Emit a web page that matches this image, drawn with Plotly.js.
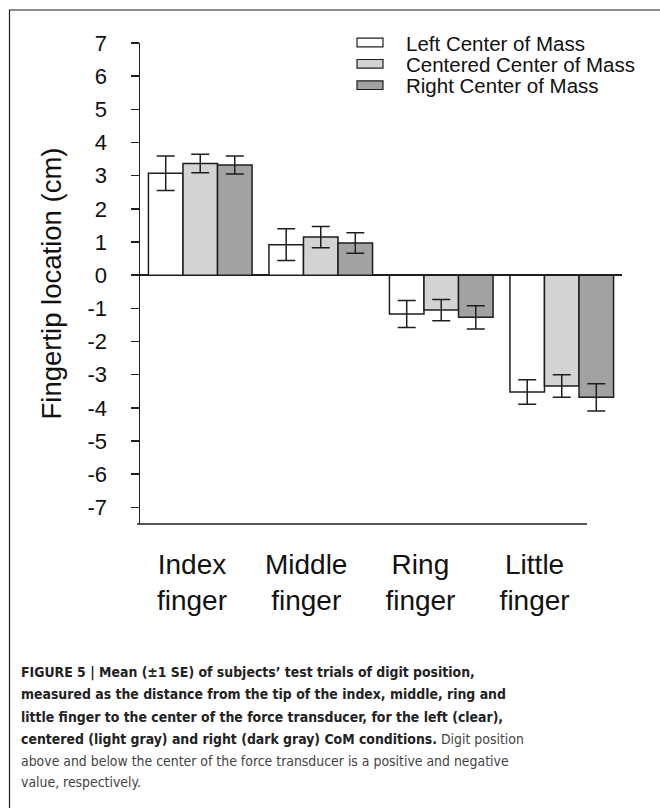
<!DOCTYPE html>
<html><head><meta charset="utf-8">
<script src="https://cdn.plot.ly/plotly-3.0.1.min.js"></script>
<style>html,body{margin:0;padding:0;background:#fff}</style>
</head><body><div id="chart" style="width:660px;height:808px"></div>
<script>
// ---- data ----
const fingers = ["Index finger", "Middle finger", "Ring finger", "Little finger"];
const fingerLabels = ["Index<br>finger", "Middle<br>finger", "Ring<br>finger", "Little<br>finger"];
const seriesNames = ["Left Center of Mass", "Centered Center of Mass", "Right Center of Mass"];
const leftMean = [3.07, 0.92, -1.17, -3.52];
const leftSE = [0.52, 0.48, 0.41, 0.37];
const centeredMean = [3.37, 1.15, -1.05, -3.34];
const centeredSE = [0.28, 0.32, 0.32, 0.34];
const rightMean = [3.32, 0.97, -1.27, -3.68];
const rightSE = [0.27, 0.31, 0.35, 0.41];
const yTickVals = [7, 6, 5, 4, 3, 2, 1, 0, -1, -2, -3, -4, -5, -6, -7];
const yTickText = ["7", "6", "5", "4", "3", "2", "1", "0", "-1", "-2", "-3", "-4", "-5", "-6", "-7"];
const yTitle = "Fingertip location (cm)";
const captionLines = [
  "<b>FIGURE 5 | Mean (±1 SE) of subjects’ test trials of digit position,</b>",
  "<b>measured as the distance from the tip of the index, middle, ring and</b>",
  "<b>little finger to the center of the force transducer, for the left (clear),</b>",
  "<b>centered (light gray) and right (dark gray) CoM conditions.</b><span style=\"color:#444\"> Digit position</span>",
  "<span style=\"color:#444\">above and below the center of the force transducer is a positive and negative</span>",
  "<span style=\"color:#444\">value, respectively.</span>"
];

// ---- styling ----
const colors = ["#ffffff", "#d3d3d3", "#a2a2a5"];
const means = [leftMean, centeredMean, rightMean];
const ses = [leftSE, centeredSE, rightSE];
const ink = "#1e1e1e";
const catIdx = fingers.map((f, i) => i);

const traces = means.map((m, k) => ({
  type: "bar",
  name: seriesNames[k],
  x: catIdx,
  y: m,
  marker: {color: colors[k], line: {color: ink, width: 1.5}},
  error_y: {type: "data", array: ses[k], visible: true, color: ink, thickness: 1.5, width: 9},
  showlegend: false,
  hoverinfo: "skip"
}));
// invisible carrier so the category label axis is drawn
traces.push({type: "scatter", mode: "markers", x: catIdx, y: catIdx.map(() => 0),
  xaxis: "x2", yaxis: "y", marker: {opacity: 0, size: 1}, showlegend: false, hoverinfo: "skip"});

// pixel -> paper helpers for decorations outside the plot area
const PL = 140, PR = 622, PT = 43, PB = 524;
const px = x => (x - PL) / (PR - PL);
const py = y => (PB - y) / (PB - PT);

const shapes = [
  {type: "rect", xref: "paper", yref: "paper", x0: px(9.5), x1: px(720), y0: py(900), y1: py(10),
   line: {color: ink, width: 1.2}, fillcolor: "rgba(0,0,0,0)"},
  {type: "line", xref: "paper", yref: "paper", x0: px(137), x1: px(587), y0: 0, y1: 0,
   line: {color: ink, width: 1.5}}
];
const annotations = [];
const legendRows = [42.5, 63.8, 85.2];
seriesNames.forEach((n, k) => {
  shapes.push({type: "rect", xref: "paper", yref: "paper",
    x0: px(357), x1: px(383), y0: py(legendRows[k] + 4.3), y1: py(legendRows[k] - 4.3),
    fillcolor: colors[k], line: {color: ink, width: 1.2}});
  annotations.push({xref: "paper", yref: "paper", x: px(404), y: py(legendRows[k] + 0.8),
    xanchor: "left", yanchor: "middle", showarrow: false, text: n,
    font: {family: "Liberation Sans, Arial, sans-serif", size: 20.5, color: "#111"}});
});
const capRows = [672, 694.5, 716.5, 738.5, 760.5, 782];
captionLines.forEach((t, i) => {
  annotations.push({xref: "paper", yref: "paper", x: px(19), y: py(capRows[i]),
    xanchor: "left", yanchor: "middle", align: "left", showarrow: false, text: t,
    font: {family: "DejaVu Sans Condensed, Liberation Sans Narrow, sans-serif", size: 13.9, color: "#222"}});
});

const layout = {
  width: 660, height: 808,
  margin: {l: PL, r: 660 - PR, t: PT, b: 808 - PB, pad: 0},
  paper_bgcolor: "#fff", plot_bgcolor: "#fff",
  barmode: "group", bargap: 0.14, bargroupgap: 0,
  font: {family: "Liberation Sans, Arial, sans-serif", color: "#111"},
  xaxis: {type: "linear", range: [-0.5, 3.5], showticklabels: false, showline: false,
    zeroline: false, showgrid: false, ticks: "", fixedrange: true},
  xaxis2: {type: "linear", overlaying: "x", anchor: "y", side: "bottom",
    range: [-0.455, 3.765], tickvals: catIdx, ticktext: fingerLabels,
    showline: false, showgrid: false, zeroline: false, ticks: "",
    ticklabelstandoff: 21, tickfont: {size: 28, color: "#111"}, fixedrange: true},
  yaxis: {range: [-7.5, 7], tickvals: yTickVals, ticktext: yTickText,
    showline: true, linecolor: ink, linewidth: 1.5,
    ticks: "outside", ticklen: 8, tickwidth: 1.5, tickcolor: ink,
    ticklabelstandoff: 19, tickfont: {size: 22, color: "#111"},
    showgrid: false, zeroline: true, zerolinecolor: ink, zerolinewidth: 1.5,
    title: {text: yTitle, font: {size: 27.5, color: "#111"}, standoff: 18},
    fixedrange: true},
  shapes: shapes,
  annotations: annotations,
  showlegend: false
};

Plotly.newPlot("chart", traces, layout, {displayModeBar: false, staticPlot: true});
</script></body></html>
